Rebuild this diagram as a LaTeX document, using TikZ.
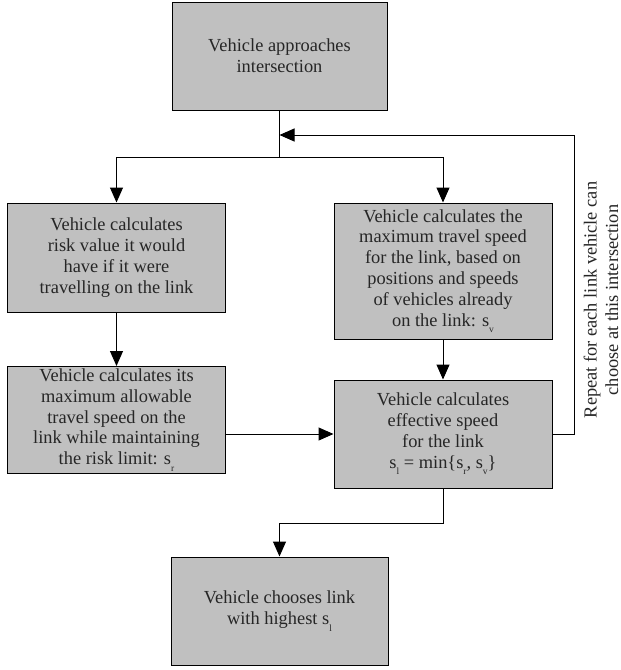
\documentclass[tikz,border=0pt]{standalone}
\usepackage{fontspec}
\setmainfont{Liberation Serif}
\usetikzlibrary{arrows.meta}
\newcommand{\lowsub}[1]{\raisebox{-6.5pt}{\fontsize{9.5}{9.5}\selectfont #1}}
\begin{document}
\begin{tikzpicture}[x=1pt,y=-1pt,
  box/.style={draw=black, fill=boxgray, line width=1pt, align=center,
    inner sep=0pt, font=\fontsize{18.4}{20.8}\selectfont, text=black!85},
  conn/.style={line width=1pt, -{Triangle[length=15pt,width=13pt]}},
  plain/.style={line width=1pt}]
\definecolor{boxgray}{HTML}{C0C0C0}
\useasboundingbox (0,0) rectangle (621,670);
\node[box, minimum width=215pt, minimum height=108pt] (top) at (279.5,56) {Vehicle approaches\\intersection};
\node[box, minimum width=218pt, minimum height=109pt] (risk) at (116.5,257.5) {Vehicle calculates\\risk value it would\\have if it were\\travelling on the link};
\node[box, minimum width=218pt, minimum height=107pt] (speedr) at (116.5,420) {Vehicle calculates its\\maximum allowable\\travel speed on the\\link while maintaining\\the risk limit: s\lowsub{r}};
\node[box, minimum width=218pt, minimum height=136pt] (maxv) at (443,271) {Vehicle calculates the\\maximum travel speed\\for the link, based on\\positions and speeds\\of vehicles already\\on the link: s\lowsub{v}};
\node[box, minimum width=218pt, minimum height=108pt] (eff) at (443,434) {Vehicle calculates\\effective speed\\for the link\\s\lowsub{l} = min\{s\lowsub{r}, s\lowsub{v}\}};
\node[box, minimum width=217pt, minimum height=108pt] (choose) at (279.5,611) {Vehicle chooses link\\with highest s\lowsub{l}};
\node[rotate=90, align=center, inner sep=0pt, font=\fontsize{18.4}{21.5}\selectfont, text=black!85] (repeat) at (601,300) {Repeat for each link vehicle can\\choose at this intersection};
\coordinate (split) at (279.5,157);
\coordinate (loopc) at (574,135);
\draw[plain] (top.south) -- (split);
\draw[conn] (split) -| (risk.north);
\draw[conn] (split) -| (maxv.north);
\draw[conn] (risk.south) -- (speedr.north);
\draw[conn] (maxv.south) -- (eff.north);
\draw[conn] (speedr.east |- eff.west) -- (eff.west);
\draw[conn] (eff.east) -| (loopc) -- (top.south |- loopc);
\draw[conn] (eff.south) -- ++(0,35) -| (choose.north);
\end{tikzpicture}
\end{document}
